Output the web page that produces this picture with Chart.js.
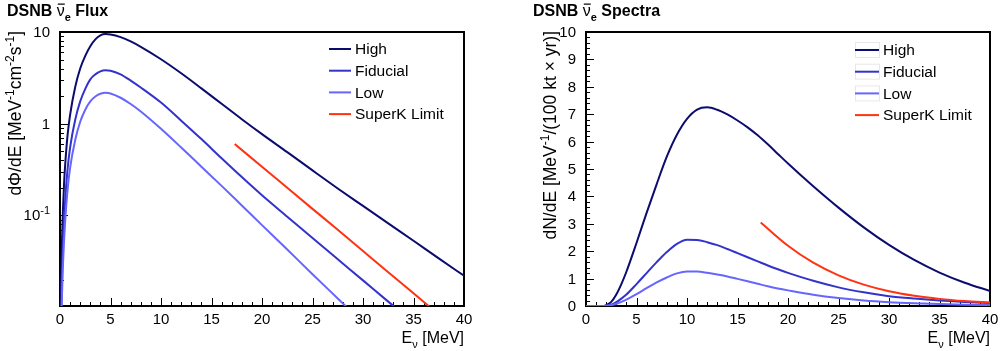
<!DOCTYPE html>
<html lang="en">
<head>
<meta charset="UTF-8">
<title>DSNB flux and spectra</title>
<script src="https://cdn.jsdelivr.net/npm/chart.js"></script>
<style>
  body { margin: 0; background: #fff; }
  .wrap { position: relative; width: 1000px; height: 351px; }
  .panel { position: absolute; top: 0; width: 500px; height: 351px; }
</style>
</head>
<body>
<div class="wrap">
  <div class="panel" style="left:0"><canvas id="fluxChart" width="500" height="351"></canvas></div>
  <div class="panel" style="left:500px"><canvas id="specChart" width="500" height="351"></canvas></div>
</div>

<script>
// ---- data ----
const fluxE     = [0.1, 0.15, 0.2, 0.3, 0.4, 0.5, 0.75, 1, 1.5, 2, 2.5, 3, 3.5, 4, 4.5, 5, 6, 7, 8, 10, 12, 14, 16, 18, 20, 22.5, 25, 27.5, 30, 32.5, 35, 37.5, 40];
const fluxHigh  = [0.014, 0.03, 0.055, 0.12, 0.22, 0.34, 0.75, 1.25, 2.5, 4.0, 5.5, 7.0, 8.3, 9.2, 9.5, 9.4, 8.8, 7.9, 6.9, 5.05, 3.55, 2.43, 1.65, 1.12, 0.77, 0.49, 0.31, 0.197, 0.127, 0.082, 0.053, 0.034, 0.022];
const fluxFid   = [0.006, 0.013, 0.023, 0.05, 0.09, 0.14, 0.32, 0.55, 1.1, 1.75, 2.4, 3.05, 3.45, 3.72, 3.82, 3.78, 3.45, 2.95, 2.48, 1.7, 1.08, 0.68, 0.42, 0.262, 0.166, 0.097, 0.0567, 0.0333, 0.0196, 0.0115, 0.0068, 0.004, 0.0024];
const fluxLow   = [0.0035, 0.008, 0.014, 0.03, 0.053, 0.083, 0.19, 0.33, 0.66, 1.05, 1.42, 1.75, 1.98, 2.12, 2.17, 2.14, 1.92, 1.64, 1.36, 0.88, 0.55, 0.34, 0.21, 0.1285, 0.0785, 0.0425, 0.0229, 0.01245, 0.00676, 0.0037, 0.002, 0.0011, 0.0006];
const skE       = [17.3, 20, 22.5, 25, 27.5, 30, 32.5, 35, 37.5, 40];
const fluxSK    = [0.6, 0.34, 0.2, 0.118, 0.07, 0.041, 0.024, 0.0142, 0.0083, 0.0049];

const specE     = [0, 1.8, 2, 2.5, 3, 3.5, 4, 5, 6, 7, 8, 9, 10, 11, 12, 13, 14, 15, 16, 17, 18, 19, 20, 22.5, 25, 27.5, 30, 32.5, 35, 37.5, 40];
const specHigh  = [0, 0, 0.03, 0.15, 0.42, 0.8, 1.25, 2.3, 3.4, 4.45, 5.45, 6.25, 6.83, 7.17, 7.25, 7.16, 6.99, 6.77, 6.52, 6.23, 5.9, 5.55, 5.2, 4.37, 3.59, 2.87, 2.23, 1.68, 1.22, 0.85, 0.55];
const specFid   = [0, 0, 0.01, 0.05, 0.14, 0.27, 0.42, 0.8, 1.2, 1.6, 1.97, 2.27, 2.42, 2.41, 2.33, 2.22, 2.08, 1.93, 1.78, 1.63, 1.48, 1.34, 1.21, 0.92, 0.68, 0.5, 0.36, 0.27, 0.2, 0.15, 0.11];
const specLow   = [0, 0, 0.005, 0.03, 0.08, 0.15, 0.23, 0.43, 0.65, 0.86, 1.04, 1.19, 1.26, 1.255, 1.21, 1.15, 1.08, 0.99, 0.9, 0.81, 0.72, 0.64, 0.57, 0.41, 0.29, 0.2, 0.14, 0.1, 0.07, 0.05, 0.035];
const specSK    = [3.05, 2.2, 1.58, 1.12, 0.78, 0.54, 0.375, 0.26, 0.18, 0.125];

const seriesNames = ['High', 'Fiducial', 'Low', 'SuperK Limit'];
const seriesColors = ['#0c0c6e', '#3333cc', '#6666ff', '#ff3311'];

const xMajor = [0, 5, 10, 15, 20, 25, 30, 35, 40];
const xMinor = Array.from({ length: 41 }, (_, i) => i);
const fluxMajor = [0.1, 1, 10];
const fluxMajorLabels = [['10', '-1'], ['1', ''], ['10', '']];
const fluxMinor = [0.02, 0.03, 0.04, 0.05, 0.06, 0.07, 0.08, 0.09, 0.2, 0.3, 0.4, 0.5, 0.6, 0.7, 0.8, 0.9, 2, 3, 4, 5, 6, 7, 8, 9];
const specMajor = [0, 1, 2, 3, 4, 5, 6, 7, 8, 9, 10];
const specMinor = Array.from({ length: 51 }, (_, i) => i / 5);

const FONT = '"Liberation Sans", Arial, Helvetica, sans-serif';

// ---- small text helpers (super/subscripts) ----
function partFont(p, size) {
  const s = (p.sup || p.sub) ? Math.round(size * 0.7) : size;
  return (p.bold ? 'bold ' : '') + s + 'px ' + FONT;
}
function richWidth(ctx, parts, size) {
  let w = 0;
  parts.forEach(p => { ctx.font = partFont(p, size); w += ctx.measureText(p.t).width; });
  return w;
}
function drawRich(ctx, parts, x, y, size) {
  ctx.textBaseline = 'alphabetic';
  ctx.textAlign = 'left';
  parts.forEach(p => {
    ctx.font = partFont(p, size);
    const dy = p.sup ? -size * 0.42 : (p.sub ? size * 0.3 : 0);
    ctx.fillText(p.t, x, y + dy);
    const w = ctx.measureText(p.t).width;
    if (p.bar) {
      ctx.fillRect(x + 1, y - size * 0.78, w - 1, 1.2);
    }
    x += w;
  });
}

function series(label, xs, ys, color, order) {
  return {
    label: label,
    data: xs.map((x, i) => ({ x: x, y: ys[i] })),
    borderColor: color,
    backgroundColor: color,
    borderWidth: 2,
    pointRadius: 0,
    fill: false,
    order: order,
    cubicInterpolationMode: 'monotone'
  };
}

// ROOT-like frame, inward ticks, labels, titles and legend
function rootPlugin(cfg) {
  return {
    id: 'rootFrame',
    beforeDatasetsDraw(chart) {
      const ctx = chart.ctx;
      const a = chart.chartArea;
      const xs = chart.scales.x, ys = chart.scales.y;
      ctx.save();
      ctx.strokeStyle = '#000';
      ctx.lineWidth = 2;
      ctx.strokeRect(a.left, a.top, a.right - a.left, a.bottom - a.top);

      ctx.lineWidth = 1;
      ctx.beginPath();
      xMinor.forEach(v => {
        const px = Math.round(xs.getPixelForValue(v)) + 0.5;
        const len = xMajor.includes(v) ? 8 : 4;
        ctx.moveTo(px, a.bottom); ctx.lineTo(px, a.bottom - len);
      });
      cfg.yMinor.concat(cfg.yMajor).forEach(v => {
        if (v < ys.min || v > ys.max) return;
        const py = Math.round(ys.getPixelForValue(v)) + 0.5;
        const len = cfg.yMajor.includes(v) ? 8 : 4;
        ctx.moveTo(a.left, py); ctx.lineTo(a.left + len, py);
      });
      ctx.stroke();
      ctx.restore();
    },
    afterDatasetsDraw(chart) {
      const ctx = chart.ctx;
      const a = chart.chartArea;
      const xs = chart.scales.x, ys = chart.scales.y;
      ctx.save();
      ctx.fillStyle = '#000';

      // x tick labels
      ctx.font = '15px ' + FONT;
      ctx.textAlign = 'center';
      ctx.textBaseline = 'middle';
      xMajor.forEach(v => ctx.fillText(String(v), xs.getPixelForValue(v), a.bottom + 14));

      // y tick labels
      cfg.yMajor.forEach((v, i) => {
        const lab = cfg.yLabels[i];
        const parts = [{ t: lab[0] }];
        if (lab[1]) parts.push({ t: lab[1], sup: true });
        const w = richWidth(ctx, parts, 15);
        drawRich(ctx, parts, a.left - 10 - w, ys.getPixelForValue(v) + 5, 15);
      });

      // x axis title, right-aligned to the frame
      const xt = [{ t: 'E' }, { t: 'ν', sub: true }, { t: ' [MeV]' }];
      drawRich(ctx, xt, a.right - richWidth(ctx, xt, 16), a.bottom + 37, 16);

      // y axis title, rotated, ending at the top of the frame
      ctx.save();
      ctx.translate(cfg.yTitleX, a.top - 1);
      ctx.rotate(-Math.PI / 2);
      drawRich(ctx, cfg.yTitle, -richWidth(ctx, cfg.yTitle, 17.5), 0, 17.5);
      ctx.restore();

      // panel title
      drawRich(ctx, cfg.title, cfg.titleX, 16, 16);

      // legend
      chart.data.datasets.forEach((ds, i) => {
        const ly = cfg.legendY + i * 21.7;
        if (cfg.legendBoxes && i < 3) {
          ctx.strokeStyle = '#e8e8e8';
          ctx.lineWidth = 1;
          ctx.strokeRect(cfg.legendX0 + 0.5, ly - 7.5, cfg.legendX1 - cfg.legendX0, 15);
        }
        ctx.strokeStyle = ds.borderColor;
        ctx.lineWidth = 2;
        ctx.beginPath();
        ctx.moveTo(cfg.legendX0, ly); ctx.lineTo(cfg.legendX1, ly);
        ctx.stroke();
        ctx.font = '15.5px ' + FONT;
        ctx.textAlign = 'left';
        ctx.textBaseline = 'middle';
        ctx.fillStyle = '#000';
        ctx.fillText(ds.label, cfg.legendX1 + 4, ly + 1);
      });
      ctx.restore();
    }
  };
}

function makeChart(id, datasets, yScale, padding, cfg) {
  return new Chart(document.getElementById(id), {
    type: 'line',
    data: { datasets: datasets },
    options: {
      responsive: false,
      animation: false,
      layout: { padding: padding },
      plugins: { legend: { display: false }, tooltip: { enabled: false } },
      scales: {
        x: { type: 'linear', min: 0, max: 40, display: false },
        y: Object.assign({ display: false }, yScale)
      }
    },
    plugins: [rootPlugin(cfg)]
  });
}

makeChart('fluxChart', [
  series(seriesNames[0], fluxE, fluxHigh, seriesColors[0], 3),
  series(seriesNames[1], fluxE, fluxFid, seriesColors[1], 2),
  series(seriesNames[2], fluxE, fluxLow, seriesColors[2], 1),
  series(seriesNames[3], skE, fluxSK, seriesColors[3], 0)
], { type: 'logarithmic', min: 0.0103, max: 10 },
{ left: 60, top: 32, right: 36, bottom: 45 },
{
  yMajor: fluxMajor, yMinor: fluxMinor, yLabels: fluxMajorLabels,
  yTitleX: 21,
  yTitle: [{ t: 'dΦ/dE [MeV' }, { t: '-1', sup: true }, { t: 'cm' }, { t: '-2', sup: true }, { t: 's' }, { t: '-1', sup: true }, { t: ']' }],
  title: [{ t: 'DSNB ', bold: true }, { t: 'ν', bar: true }, { t: 'e', sub: true, bold: true }, { t: ' Flux', bold: true }],
  titleX: 7,
  legendX0: 329, legendX1: 351, legendY: 49, legendBoxes: false
});

makeChart('specChart', [
  series(seriesNames[0], specE, specHigh, seriesColors[0], 3),
  series(seriesNames[1], specE, specFid, seriesColors[1], 2),
  series(seriesNames[2], specE, specLow, seriesColors[2], 1),
  series(seriesNames[3], skE, specSK, seriesColors[3], 0)
], { type: 'linear', min: 0, max: 10 },
{ left: 86, top: 32, right: 10, bottom: 45 },
{
  yMajor: specMajor, yMinor: specMinor, yLabels: specMajor.map(v => [String(v), '']),
  yTitleX: 56,
  yTitle: [{ t: 'dN/dE [MeV' }, { t: '-1', sup: true }, { t: '/(100 kt × yr)]' }],
  title: [{ t: 'DSNB ', bold: true }, { t: 'ν', bar: true }, { t: 'e', sub: true, bold: true }, { t: ' Spectra', bold: true }],
  titleX: 33,
  legendX0: 355, legendX1: 379, legendY: 50, legendBoxes: true
});
</script>
</body>
</html>
